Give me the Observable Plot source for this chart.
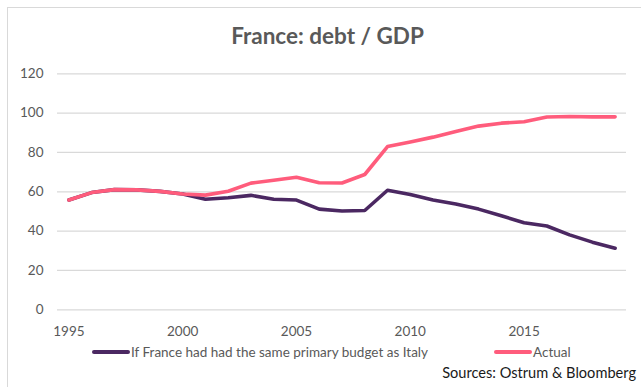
<!DOCTYPE html>
<html>
<head>
<meta charset="utf-8">
<script src="https://cdn.jsdelivr.net/npm/d3@7"></script>
<script src="https://cdn.jsdelivr.net/npm/@observablehq/plot@0.6"></script>
<style>
  html, body { margin: 0; padding: 0; background: #ffffff; }
  #wrap { position: relative; width: 641px; height: 387px; overflow: hidden; font-family: Lato, "Open Sans", sans-serif; }
  #frame { position: absolute; left: 7px; top: 7px; width: 700px; height: 500px; border-left: 1.5px solid #d9d9d9; border-top: 1.5px solid #d9d9d9; }
  #chart { position: absolute; left: 0; top: 0; }
  #title { position: absolute; left: 0; width: 655px; top: 22px; text-align: center; font-size: 22.5px; font-weight: bold; color: #595959; }
  .leg { position: absolute; top: 344px; font-size: 13.5px; color: #595959; white-space: nowrap; display: flex; align-items: center; }
  .sw { display: inline-block; width: 38px; height: 4px; border-radius: 2px; margin-right: 1px; }
  #source { position: absolute; right: 5px; top: 364px; font-size: 14.6px; color: #1a1a1a; white-space: nowrap; }
</style>
</head>
<body>
<div id="wrap">
  <div id="frame"></div>
  <div id="chart"></div>
  <div id="title">France: debt / GDP</div>
  <div class="leg" id="leg1" style="left:92px"></div>
  <div class="leg" id="leg2" style="left:494px"></div>
  <div id="source">Sources: Ostrum &amp; Bloomberg</div>
</div>
<script>
const years = [1995,1996,1997,1998,1999,2000,2001,2002,2003,2004,2005,2006,2007,2008,2009,2010,2011,2012,2013,2014,2015,2016,2017,2018,2019];
const actual = [55.8,59.6,61.1,61.0,60.2,58.9,58.3,60.3,64.4,65.9,67.4,64.6,64.5,68.8,83.0,85.3,87.8,90.6,93.4,94.9,95.6,98.0,98.3,98.1,98.1];
const italyBudget = [55.8,59.6,61.1,61.0,60.2,58.9,56.2,57.0,58.2,56.2,55.8,51.2,50.2,50.5,60.8,58.6,55.8,53.8,51.2,47.8,44.3,42.6,38.1,34.4,31.3];
const seriesNames = ["If France had had the same primary budget as Italy", "Actual"];
const seriesColors = ["#4b2862", "#ff5c7c"];
const xTicks = [1995, 2000, 2005, 2010, 2015];
const yTicks = [0, 20, 40, 60, 80, 100, 120];

const rows = [];
years.forEach((y, i) => {
  rows.push({year: y, value: italyBudget[i], series: seriesNames[0]});
});
years.forEach((y, i) => {
  rows.push({year: y, value: actual[i], series: seriesNames[1]});
});

const chart = Plot.plot({
  width: 641,
  height: 387,
  marginLeft: 57,
  marginRight: 15,
  marginTop: 73.3,
  marginBottom: 77.7,
  style: {fontFamily: "Lato, 'Open Sans', sans-serif", fontSize: "13.5px", color: "#595959", background: "transparent", overflow: "visible"},
  x: {domain: [1994.5, 2019.5], ticks: xTicks, tickFormat: d => String(d)},
  y: {domain: [0, 120], ticks: yTicks},
  color: {domain: seriesNames, range: seriesColors},
  marks: [
    Plot.gridY(yTicks, {stroke: "#d9d9d9", strokeOpacity: 1, strokeWidth: 1.3}),
    Plot.axisY({ticks: yTicks, tickSize: 0, tickPadding: 14, label: null, fill: "#595959"}),
    Plot.axisX({ticks: xTicks, tickSize: 0, tickPadding: 17, label: null, fill: "#595959", tickFormat: d => String(d)}),
    Plot.line(rows, {x: "year", y: "value", z: "series", stroke: "series", strokeWidth: 3.6, strokeLinejoin: "round", strokeLinecap: "round"})
  ]
});
document.getElementById("chart").appendChild(chart);

const legs = [document.getElementById("leg1"), document.getElementById("leg2")];
seriesNames.forEach((n, i) => {
  const sw = document.createElement("span");
  sw.className = "sw";
  sw.style.background = seriesColors[i];
  const t = document.createElement("span");
  t.textContent = n;
  legs[i].appendChild(sw);
  legs[i].appendChild(t);
});
</script>
</body>
</html>
